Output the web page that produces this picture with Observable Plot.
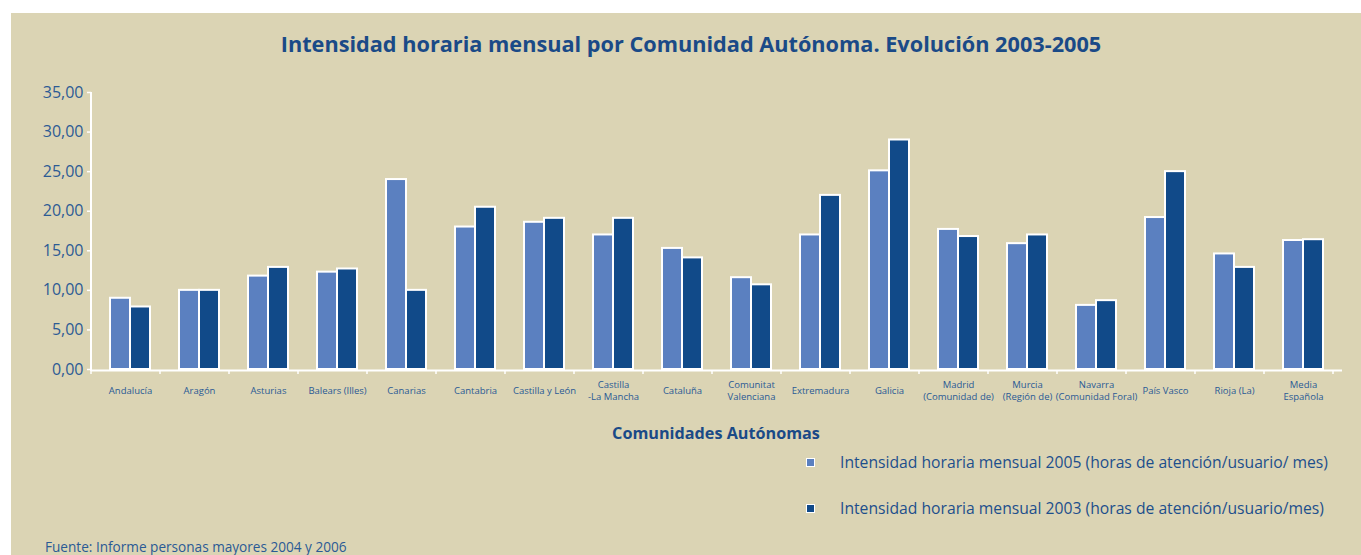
<!DOCTYPE html>
<html>
<head>
<meta charset="utf-8">
<script src="https://cdn.jsdelivr.net/npm/d3@7"></script>
<script src="https://cdn.jsdelivr.net/npm/@observablehq/plot@0.6"></script>
<style>
  html, body { margin: 0; padding: 0; background: #ffffff; width: 1361px; height: 555px; overflow: hidden; }
  body { font-family: "Open Sans", "Noto Sans", sans-serif; }
  #panel { position: absolute; left: 11px; top: 13px; width: 1350px; height: 542px; background: #dbd4b4; }
  #title { position: absolute; left: 5px; width: 1350px; top: 18px; text-align: center; font-size: 21.7px; line-height: 26px; font-weight: 700; color: #1a4a87; white-space: nowrap; }
  #chart { position: absolute; left: 0; top: 67px; }
  #xlabel { position: absolute; left: 705px; top: 410px; transform: translateX(-50%); font-size: 16.2px; line-height: 20px; font-weight: 700; color: #1a4a87; white-space: nowrap; }
  .leg { position: absolute; left: 795px; height: 20px; display: flex; align-items: center; white-space: nowrap; font-size: 15.7px; color: #1d4f8c; }
  .sw { width: 7px; height: 7px; border: 1px solid #ffffff; margin-right: 25px; }
  #source { position: absolute; left: 34px; top: 526px; font-size: 13.6px; line-height: 16px; color: #2a5a95; white-space: nowrap; }
</style>
</head>
<body>
<div id="panel">
  <div id="title">Intensidad horaria mensual por Comunidad Autónoma. Evolución 2003-2005</div>
  <div id="chart"></div>
  <div id="xlabel">Comunidades Autónomas</div>
  <div id="legend"></div>
  <div id="source">Fuente: Informe personas mayores 2004 y 2006</div>
</div>
<script>
// ---- data ----
const regions = [
  "Andalucía", "Aragón", "Asturias", "Balears (Illes)", "Canarias", "Cantabria",
  "Castilla y León", "Castilla-La Mancha", "Cataluña", "Comunitat Valenciana",
  "Extremadura", "Galicia", "Madrid (Comunidad de)", "Murcia (Región de)",
  "Navarra (Comunidad Foral)", "País Vasco", "Rioja (La)", "Media Española"
];
const tickLabels = [
  "Andalucía", "Aragón", "Asturias", "Balears (Illes)", "Canarias", "Cantabria",
  "Castilla y León", "Castilla\n-La Mancha", "Cataluña", "Comunitat\nValenciana",
  "Extremadura", "Galicia", "Madrid\n(Comunidad de)", "Murcia\n(Región de)",
  "Navarra\n(Comunidad Foral)", "País Vasco", "Rioja (La)", "Media\nEspañola"
];
const values2005 = [9.0, 10.0, 11.8, 12.3, 24.0, 18.0, 18.6, 17.0, 15.3, 11.6, 17.0, 25.1, 17.7, 15.9, 8.1, 19.2, 14.6, 16.3];
const values2003 = [7.9, 10.0, 12.9, 12.7, 10.0, 20.5, 19.1, 19.1, 14.1, 10.7, 22.0, 29.0, 16.8, 17.0, 8.7, 25.0, 12.9, 16.4];
const yTicks = [0, 5, 10, 15, 20, 25, 30, 35];
const seriesNames = [
  "Intensidad horaria mensual 2005 (horas de atención/usuario/ mes)",
  "Intensidad horaria mensual 2003 (horas de atención/usuario/mes)"
];
const seriesColors = ["#5b80c0", "#114a89"];

// ---- table ----
const rows = regions.map((r, i) => ({region: r, label: tickLabels[i], v2005: values2005[i], v2003: values2003[i]}));

const textBlue = "#2a5a95";
const pad = 0.425;

const plot = Plot.plot({
  width: 1350,
  height: 330,
  marginTop: 12,
  marginBottom: 41,
  marginLeft: 80,
  marginRight: 19,
  style: {background: "transparent", fontFamily: "'Open Sans', 'Noto Sans', sans-serif", color: textBlue},
  x: {domain: regions, paddingInner: pad, paddingOuter: pad / 2, align: 0.5, axis: null},
  y: {domain: [0, 35], axis: null},
  marks: [
    Plot.barY(rows, {x: "region", y: "v2005", fill: seriesColors[0], stroke: "white", strokeWidth: 2, insetRight: 20}),
    Plot.barY(rows, {x: "region", y: "v2003", fill: seriesColors[1], stroke: "white", strokeWidth: 2, insetLeft: 20}),
    Plot.ruleY([0], {stroke: "white", strokeWidth: 2, dy: 1}),
    Plot.axisY({ticks: yTicks, tickFormat: d => d.toFixed(2).replace(".", ","), tickSize: 4, tickPadding: 4,
      stroke: "white", strokeWidth: 1.5, fill: "#2d5b94", fontSize: 16, label: null}),
    Plot.text(rows, {x: "region", text: "label", frameAnchor: "bottom", dy: 21, lineAnchor: "middle",
      fontSize: 9.5, fill: textBlue, lineHeight: 1.25})
  ]
});
document.getElementById("chart").appendChild(plot);

// axis line on the left and boundary ticks, placed through the plot's scales
const xs = plot.scale("x");
const ys = plot.scale("y");
const svg = d3.select(plot);
const x0 = xs.range[0];
svg.append("line").attr("x1", x0).attr("x2", x0).attr("y1", ys.apply(35)).attr("y2", ys.apply(0) + 2)
  .attr("stroke", "white").attr("stroke-width", 2);
const step = xs.step;
for (let k = 0; k <= regions.length; k++) {
  const xb = x0 + k * step;
  svg.append("line").attr("x1", xb).attr("x2", xb).attr("y1", ys.apply(0) + 1).attr("y2", ys.apply(0) + 5)
    .attr("stroke", "white").attr("stroke-width", 1.5);
}

// legend
const legend = document.getElementById("legend");
seriesNames.forEach((name, i) => {
  const row = document.createElement("div");
  row.className = "leg";
  row.style.top = (439 + i * 46) + "px";
  const sw = document.createElement("div");
  sw.className = "sw";
  sw.style.background = seriesColors[i];
  const t = document.createElement("span");
  t.textContent = name;
  row.appendChild(sw);
  row.appendChild(t);
  legend.appendChild(row);
});
</script>
</body>
</html>
